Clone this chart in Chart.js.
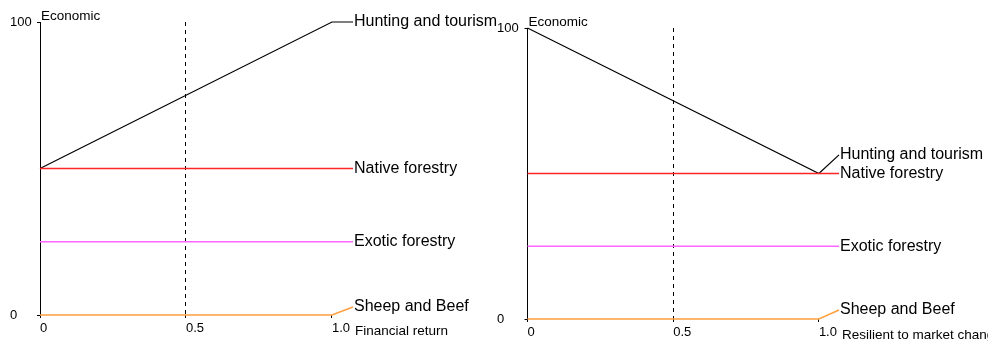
<!DOCTYPE html>
<html>
<head>
<meta charset="utf-8">
<script src="https://cdn.jsdelivr.net/npm/chart.js@4/dist/chart.umd.min.js"></script>
<style>
  html, body { margin: 0; padding: 0; background: #fff; width: 988px; height: 344px; overflow: hidden; }
  canvas { position: absolute; top: 0; }
  #c1 { left: 0; }
  #c2 { left: 494px; }
</style>
</head>
<body>
<canvas id="c1" width="500" height="344"></canvas>
<canvas id="c2" width="494" height="344"></canvas>
<script>
// Land-use options scored on the "Economic" scale (0-100)
const seriesNames = ['Hunting and tourism', 'Native forestry', 'Exotic forestry', 'Sheep and Beef'];
const seriesColors = ['#000000', '#ff2626', '#ff66ff', '#ffa040'];

// weighting of the criterion along the x axis
const xValues = [0, 1];
const xTicks = [0, 0.5, 1];
const xTickLabels = ['0', '0.5', '1.0'];
const yTicks = [0, 100];
const yTickLabels = ['0', '100'];

// Financial return
const finHunting = [50, 100];
const finNative = [50, 50];
const finExotic = [25, 25];
const finSheep = [0, 0];

// Resilient to market change
const resHunting = [100, 50];
const resNative = [50, 50];
const resExotic = [25, 25];
const resSheep = [0, 0];

// where each leader line ends and its name is written (data units)
const finLabelX = 1.072;
const finLabelY = [100, 50, 25, 2.7];
const resLabelX = 1.069;
const resLabelY = [56.4, 50, 25, 3.1];

function buildDatasets(seriesValues, labelX, labelY) {
  return seriesValues.map((vals, i) => ({
    label: seriesNames[i],
    data: xValues.map((x, k) => ({ x: x, y: vals[k] }))
      .concat([{ x: labelX, y: labelY[i] }]),
    borderColor: seriesColors[i],
    borderWidth: i === 0 ? 1.2 : 1.6,
    pointRadius: 0,
    tension: 0,
    clip: false
  })).reverse();
}

// writes series names at the end of the leader lines plus the axis captions
const labelPlugin = {
  id: 'seriesLabels',
  afterDatasetsDraw(chart, args, opts) {
    const ctx = chart.ctx;
    const area = chart.chartArea;
    const xs = chart.scales.x;
    ctx.save();
    ctx.fillStyle = '#000';
    ctx.textBaseline = 'middle';
    ctx.textAlign = 'left';
    ctx.font = '16px "Liberation Sans", Arial, sans-serif';
    chart.data.datasets.forEach((ds, i) => {
      const meta = chart.getDatasetMeta(i);
      const last = meta.data[meta.data.length - 1];
      ctx.fillText(ds.label, last.x + 1, last.y);
    });
    ctx.font = '13.5px "Liberation Sans", Arial, sans-serif';
    ctx.fillText('Economic', area.left + 1, area.top - 6);
    ctx.fillText(opts.xTitle, xs.getPixelForValue(1) + 23, area.bottom + 16);
    ctx.restore();
  }
};

function makeChart(id, seriesValues, labelX, labelY, pad, yWidth, xHeight, xTitle) {
  return new Chart(document.getElementById(id), {
    type: 'line',
    data: { datasets: buildDatasets(seriesValues, labelX, labelY) },
    plugins: [labelPlugin],
    options: {
      responsive: false,
      animation: false,
      devicePixelRatio: 1,
      layout: { padding: pad },
      plugins: {
        legend: { display: false },
        tooltip: { enabled: false },
        seriesLabels: { xTitle: xTitle }
      },
      scales: {
        x: {
          type: 'linear',
          min: 0,
          max: labelX,
          afterBuildTicks: s => { s.ticks = xTicks.map(v => ({ value: v })); },
          afterFit: s => { s.height = xHeight; },
          ticks: {
            align: 'start',
            padding: 3,
            color: '#000',
            font: { family: '"Liberation Sans", Arial, sans-serif', size: 13 },
            callback: (v, i) => xTickLabels[i]
          },
          grid: {
            color: c => (c.tick && c.tick.value === 0.5) ? '#000' : 'rgba(0,0,0,0)',
            tickColor: '#000',
            tickLength: 3,
            lineWidth: 1
          },
          border: { display: false, dash: [4, 4] }
        },
        y: {
          type: 'linear',
          min: 0,
          max: 100,
          afterBuildTicks: s => { s.ticks = yTicks.map(v => ({ value: v })); },
          afterFit: s => { s.width = yWidth; },
          ticks: {
            crossAlign: 'far',
            padding: 3,
            color: '#000',
            font: { family: '"Liberation Sans", Arial, sans-serif', size: 13 },
            callback: (v, i) => yTickLabels[i]
          },
          grid: { drawOnChartArea: false, tickColor: '#000', tickLength: 3 },
          border: { display: true, color: '#000', width: 1 }
        }
      }
    }
  });
}

makeChart('c1', [finHunting, finNative, finExotic, finSheep], finLabelX, finLabelY,
  { left: 10, top: 22, right: 147, bottom: 0 }, 30, 29, 'Financial return');
makeChart('c2', [resHunting, resNative, resExotic, resSheep], resLabelX, resLabelY,
  { left: 3, top: 28, right: 149, bottom: 0 }, 30.5, 25, 'Resilient to market change');
</script>
</body>
</html>
